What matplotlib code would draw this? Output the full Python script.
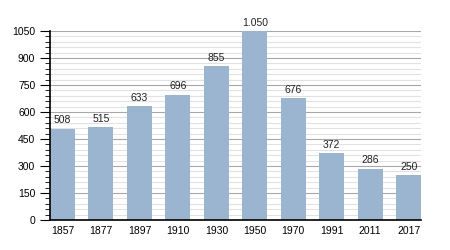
import numpy as np
import matplotlib.pyplot as plt
from matplotlib.ticker import MultipleLocator

plt.rcParams['font.family'] = ['Liberation Sans', 'DejaVu Sans']

# Dati
anni = ['1857', '1877', '1897', '1910', '1930', '1950', '1970', '1991', '2011', '2017']
abitanti = [508, 515, 633, 696, 855, 1050, 676, 372, 286, 250]
etichette = ['508', '515', '633', '696', '855', '1.050', '676', '372', '286', '250']

fig = plt.figure(figsize=(4.5, 2.5), dpi=100)
ax = fig.add_axes([0.111, 0.12, 0.825, 0.756])

x = np.arange(len(anni))
w = 0.65
ax.bar(x, abitanti, width=w, color='#9bb4d0', zorder=2)

for xi, v, lab in zip(x, abitanti, etichette):
    ax.text(xi, v + 18, lab, ha='center', va='bottom', fontsize=7.5, color='#222222')

ax.set_xlim(-w / 2, len(anni) - 1 + w / 2)
ax.set_ylim(0, 1050)
ax.set_xticks(x)
ax.set_xticklabels(anni)
ax.yaxis.set_major_locator(MultipleLocator(150))
ax.yaxis.set_minor_locator(MultipleLocator(30))

ax.grid(axis='y', which='major', color='#a8a8a8', linewidth=0.8, zorder=1)
ax.grid(axis='y', which='minor', color='#e2e2e2', linewidth=0.8, zorder=1)

for s in ['top', 'right']:
    ax.spines[s].set_visible(False)
for s in ['left', 'bottom']:
    ax.spines[s].set_linewidth(1.2)
    ax.spines[s].set_zorder(4)

ax.tick_params(axis='x', length=0, labelsize=7.5, pad=4)
ax.tick_params(axis='y', which='major', length=7.5, labelsize=7.5, pad=3)
ax.tick_params(axis='y', which='minor', length=3.5)

plt.savefig('out.png', dpi=100)
